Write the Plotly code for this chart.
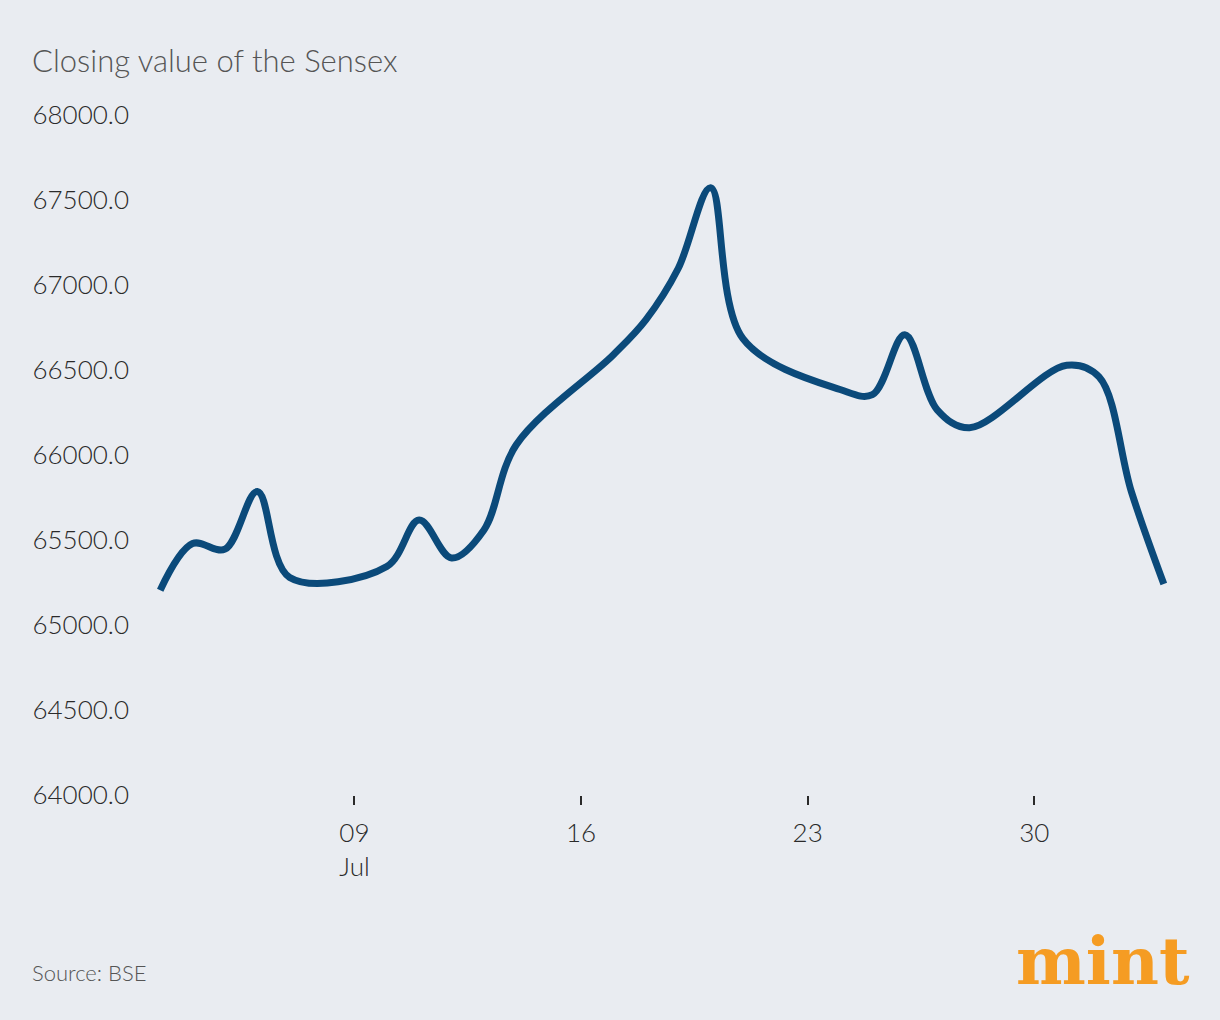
import plotly.graph_objects as go

dates = ["2023-07-03", "2023-07-04", "2023-07-05", "2023-07-06", "2023-07-07",
         "2023-07-10", "2023-07-11", "2023-07-12", "2023-07-13", "2023-07-14",
         "2023-07-17", "2023-07-18", "2023-07-19", "2023-07-20", "2023-07-21",
         "2023-07-24", "2023-07-25", "2023-07-26", "2023-07-27", "2023-07-28",
         "2023-07-31", "2023-08-01", "2023-08-02", "2023-08-03"]
closing = [65205, 65479, 65446, 65785, 65280,
           65344, 65617, 65394, 65559, 66060,
           66590, 66795, 67097, 67572, 66684,
           66385, 66355, 66707, 66266, 66160,
           66528, 66459, 65783, 65241]

x_tickvals = ["2023-07-09", "2023-07-16", "2023-07-23", "2023-07-30"]
x_ticktext = ["09<br>Jul", "16", "23", "30"]
y_tickvals = [64000, 64500, 65000, 65500, 66000, 66500, 67000, 67500, 68000]

bg = "#E9ECF1"
txt = "#2a2a2a"
fig = go.Figure()
fig.add_trace(go.Scatter(
    x=dates, y=closing, mode="lines",
    line=dict(color="#0B4A7A", width=7, shape="spline", smoothing=1.0),
    hoverinfo="x+y", showlegend=False,
))

fig.update_layout(
    width=1220, height=1020,
    paper_bgcolor=bg, plot_bgcolor=bg,
    margin=dict(l=144, r=40, t=115, b=225),
    font=dict(family="Lato", color=txt, size=26, weight=300),
    xaxis=dict(
        type="date",
        range=["2023-07-02 12:00", "2023-08-03 12:00"],
        tickvals=x_tickvals, ticktext=x_ticktext,
        showgrid=False, zeroline=False, showline=False,
        ticks="outside", ticklen=9, tickwidth=2, tickcolor=txt,
        ticklabelstandoff=6,
        tickfont=dict(size=26, color=txt, family="Lato", weight=300),
    ),
    yaxis=dict(
        range=[64000, 68000],
        tickvals=y_tickvals, tickformat=".1f",
        showgrid=False, zeroline=False, showline=False,
        ticks="", ticklabelstandoff=14,
        tickfont=dict(size=26, color=txt, family="Lato", weight=300),
    ),
    annotations=[
        dict(text="Closing value of the Sensex", xref="paper", yref="paper",
             x=(30 - 144) / 1036, y=1 + 55 / 680, xanchor="left", yanchor="middle",
             showarrow=False, font=dict(size=31, color="#555555", family="Lato", weight=300)),
        dict(text="Source: BSE", xref="paper", yref="paper",
             x=(30 - 144) / 1036, y=-(972 - 795) / 680, xanchor="left", yanchor="middle",
             showarrow=False, font=dict(size=22, color="#555555", family="Lato", weight=300)),
        dict(text="<b>mint</b>", xref="paper", yref="paper",
             x=(1192 - 144) / 1036, y=-(961 - 795) / 680, xanchor="right", yanchor="middle",
             showarrow=False, font=dict(size=66, color="#F59C23", family="DejaVu Serif")),
    ],
)

fig.write_html("out.html", config={"displayModeBar": False},
               post_script="document.body.style.margin='0';")
